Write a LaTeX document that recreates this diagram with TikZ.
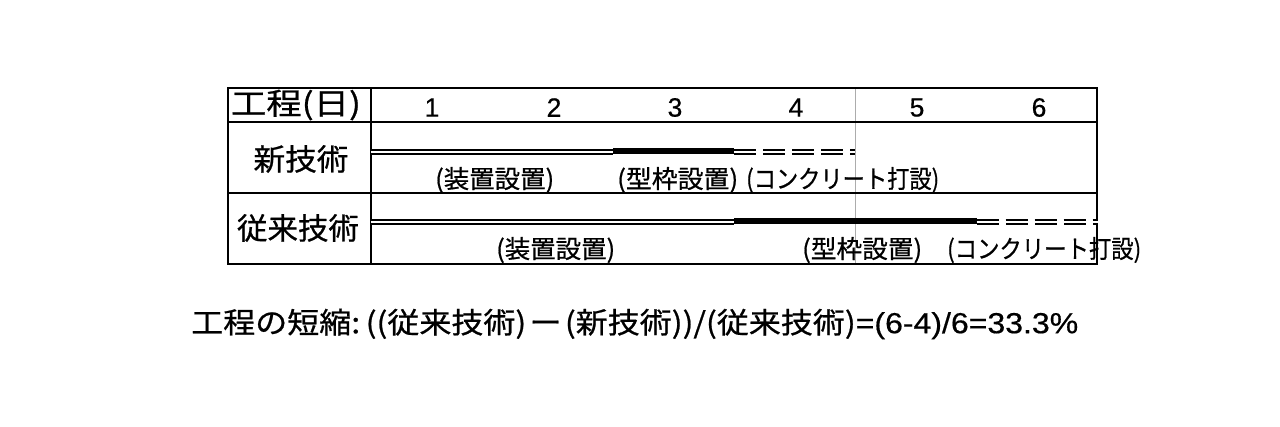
\documentclass[tikz,border=0pt]{standalone}
\usepackage{fontspec}
\usepackage{graphicx}
\setmainfont{Noto Sans CJK JP}[FakeBold=0.7]
\newfontfamily\latinf{Liberation Sans}[FakeBold=0.5]
\newcommand{\fitw}[2]{\resizebox{#1}{\height}{#2}}
\begin{document}
\begin{tikzpicture}[x=1pt,y=-1pt,
  frame/.style={line width=1.8pt},
  grayline/.style={line width=1pt, gray!65},
  prep/.style={double, double distance=2pt, line width=2pt},
  form/.style={line width=5.5pt},
  pour/.style={double, double distance=2pt, line width=2pt, dash pattern=on 22pt off 7pt},
  hd/.style={font=\fontsize{30}{32}\selectfont, inner sep=0pt},
  num/.style={font=\latinf\fontsize{26.5}{28}\selectfont, inner sep=0pt},
  rowlbl/.style={font=\fontsize{30}{32}\selectfont, inner sep=0pt},
  lbl/.style={font=\fontsize{25}{27}\selectfont, inner sep=0pt, anchor=west},
  eq/.style={font=\fontsize{29}{31}\selectfont, inner sep=0pt, anchor=west}]
\useasboundingbox[fill=white] (0,0) rectangle (1280,426);
% day boundaries
\coordinate (d0) at (371,0);
\foreach \i in {1,...,6} {\coordinate (d\i) at (371+121.1*\i,0);}
% gray line at end of day 4
\draw[grayline] (d4 |- 0,88) -- (d4 |- 0,264);
% table frame
\draw[frame] (228,88) rectangle (1097,264);
\draw[frame] (228,122) -- (1097,122);
\draw[frame] (228,193) -- (1097,193);
\draw[frame] (371,88) -- (371,264);
% header
\node[hd] (h0) at (296,105) {\fitw{130pt}{工程(日)}};
\node[num] (n1) at (432,107.5) {1};
\node[num] (n2) at (554,107.5) {2};
\node[num] (n3) at (675,107.5) {3};
\node[num] (n4) at (796,107.5) {4};
\node[num] (n5) at (917,107.5) {5};
\node[num] (n6) at (1039,107.5) {6};
% row labels
\node[rowlbl] (rn) at (301,159) {\fitw{95pt}{新技術}};
\node[rowlbl] (ro) at (298,228) {\fitw{122pt}{従来技術}};
% new technology bars
\coordinate (a0) at (d0 |- 0,152);
\coordinate (a2) at (d2 |- 0,152);
\coordinate (a2t) at (d2 |- 0,151);
\coordinate (a3t) at (d3 |- 0,151);
\coordinate (a3) at (d3 |- 0,151.5);
\coordinate (a4) at (d4 |- 0,151.5);
\draw[prep] (a0) -- (a2);
\draw[form] (a2t) -- (a3t);
\draw[pour] (a3) -- (a4);
% old technology bars
\coordinate (b0) at (d0 |- 0,222);
\coordinate (b3) at (d3 |- 0,222);
\coordinate (b3t) at (d3 |- 0,221);
\coordinate (b5t) at (d5 |- 0,221);
\coordinate (b5) at (d5 |- 0,221.5);
\coordinate (b6) at (d6 |- 0,221.5);
\draw[prep] (b0) -- (b3);
\draw[form] (b3t) -- (b5t);
\draw[pour] (b5) -- (b6);
% labels new
\node[lbl] (ln1) at (435,180) {\fitw{119pt}{(装置設置)}};
\node[lbl] (ln2) at (617,180) {\fitw{121pt}{(型枠設置)}};
\node[lbl] (ln3) at (746,180) {\fitw{193pt}{(コンクリート打設)}};
% labels old
\node[lbl] (lo1) at (496,250) {\fitw{119pt}{(装置設置)}};
\node[lbl] (lo2) at (802,250) {\fitw{120pt}{(型枠設置)}};
\node[lbl] (lo3) at (947,250) {\fitw{194pt}{(コンクリート打設)}};
% formula
\node[eq] (f) at (191,324) {\fitw{887pt}{工程の短縮:\hspace{5pt}((従来技術)\hspace{3pt}ー\hspace{3pt}(新技術))/(従来技術){\latinf =(6-4)/6=33.3\%}}};
\end{tikzpicture}
\end{document}
